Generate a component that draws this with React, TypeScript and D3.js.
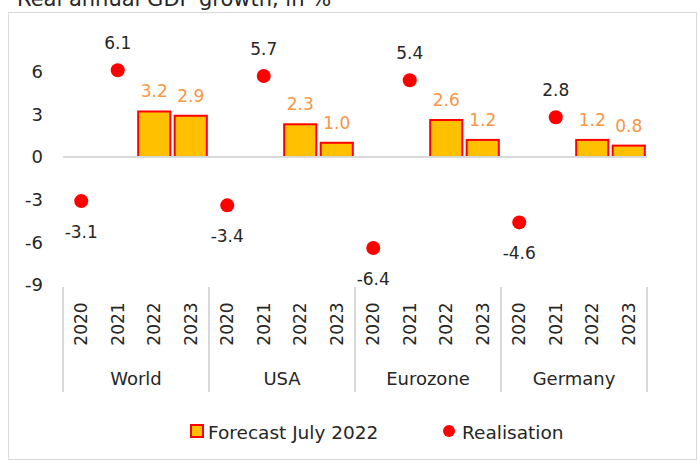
import * as d3 from "d3";

const regions = ["World", "USA", "Eurozone", "Germany"];
const years = ["2020", "2021", "2022", "2023"];
// realisation points (2020, 2021)
const realisation = [
  [-3.1, 6.1],
  [-3.4, 5.7],
  [-6.4, 5.4],
  [-4.6, 2.8],
];
// forecast July 2022 bars (2022, 2023)
const forecast = [
  [3.2, 2.9],
  [2.3, 1.0],
  [2.6, 1.2],
  [1.2, 0.8],
];
const yTicks = [-9, -6, -3, 0, 3, 6];

const W = 699;
const H = 462;
const FONT = "'DejaVu Sans', Verdana, sans-serif";
const GRID = "#d9d9d9";
const TEXT = "#262626";
const ORANGE = "#F79646";

export default function App() {
  const slots = regions.flatMap((r) => years.map((y) => `${r}|${y}`));
  const x = d3.scaleBand<string>().domain(slots).range([63, 647]).padding(0);
  const groupX = d3.scaleBand<string>().domain(regions).range([63, 647]).padding(0);
  const y = d3.scaleLinear().domain([-9, 9]).range([285, 29]);
  const bw = x.bandwidth();
  const barW = bw * 0.88;

  const points = regions.flatMap((r, i) =>
    realisation[i].map((v, j) => ({ key: `${r}|${years[j]}`, v }))
  );
  const bars = regions.flatMap((r, i) =>
    forecast[i].map((v, j) => ({ key: `${r}|${years[j + 2]}`, v }))
  );

  return (
    <svg
      width={W}
      height={H}
      style={{ position: "fixed", left: 0, top: 0, background: "#fff" }}
      fontFamily={FONT}
    >
      <text x={17} y={6} fontSize={21} fill={TEXT}>
        Real annual GDP growth, in %
      </text>
      <rect x={8.5} y={12.5} width={688} height={447} fill="none" stroke={GRID} />

      {/* y tick labels */}
      {yTicks.map((t) => (
        <text key={t} x={43} y={y(t)} dy="0.36em" textAnchor="end" fontSize={18} fill={TEXT}>
          {t}
        </text>
      ))}

      {/* bars */}
      {bars.map((b) => (
        <g key={b.key}>
          <rect
            x={x(b.key)! + (bw - barW) / 2}
            y={y(b.v)}
            width={barW}
            height={y(0) - y(b.v)}
            fill="#FFC000"
            stroke="#FF0000"
            strokeWidth={2}
          />
          <text
            x={x(b.key)! + bw / 2}
            y={y(b.v) - 14}
            textAnchor="middle"
            fontSize={17}
            fill={ORANGE}
          >
            {b.v.toFixed(1)}
          </text>
        </g>
      ))}

      {/* zero line */}
      <line x1={63} x2={647} y1={y(0)} y2={y(0)} stroke={GRID} strokeWidth={2} />

      {/* points */}
      {points.map((p) => (
        <g key={p.key}>
          <circle cx={x(p.key)! + bw / 2} cy={y(p.v)} r={7} fill="#FF0000" />
          <text
            x={x(p.key)! + bw / 2}
            y={p.v >= 0 ? y(p.v) - 21 : y(p.v) + 37}
            textAnchor="middle"
            fontSize={17}
            fill={TEXT}
          >
            {p.v.toFixed(1)}
          </text>
        </g>
      ))}

      {/* category axis */}
      {[...regions.map((r) => groupX(r)!), 647].map((sx, i) => (
        <line key={i} x1={sx} x2={sx} y1={287} y2={392} stroke={GRID} strokeWidth={2} />
      ))}
      {slots.map((s) => (
        <text
          key={s}
          transform={`translate(${x(s)! + bw / 2},324) rotate(-90)`}
          dy="0.36em"
          textAnchor="middle"
          fontSize={17}
          fill={TEXT}
        >
          {s.split("|")[1]}
        </text>
      ))}
      {regions.map((r) => (
        <text
          key={r}
          x={groupX(r)! + groupX.bandwidth() / 2}
          y={385}
          textAnchor="middle"
          fontSize={18}
          fill={TEXT}
        >
          {r}
        </text>
      ))}

      {/* legend */}
      <rect x={191} y={425} width={12} height={12} fill="#FFC000" stroke="#FF0000" strokeWidth={2} />
      <text x={208} y={439} fontSize={18.5} fill={TEXT}>
        Forecast July 2022
      </text>
      <circle cx={449} cy={431} r={6} fill="#FF0000" />
      <text x={462} y={439} fontSize={18.5} fill={TEXT}>
        Realisation
      </text>
    </svg>
  );
}
